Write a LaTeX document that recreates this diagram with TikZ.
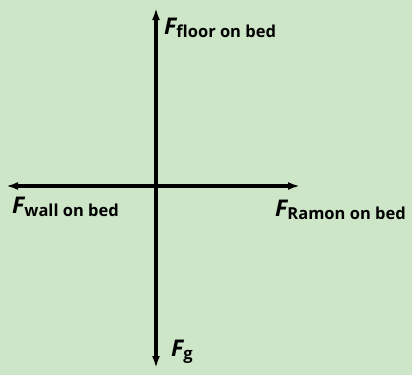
\documentclass[tikz,border=0pt]{standalone}
\usepackage{fontspec}
\setmainfont{Open Sans}
\usetikzlibrary{arrows.meta}
\definecolor{bg}{RGB}{206,230,200}
\newcommand{\forcelab}[1]{{\fontsize{23}{23}\selectfont\itshape F}\raisebox{-3pt}{\fontsize{16.5}{16.5}\selectfont #1}}
\begin{document}
\begin{tikzpicture}[x=1pt,y=-1pt,
  force/.style={line width=3.6pt,-{Latex[length=12pt,width=8pt]}},
  lab/.style={anchor=base west,inner sep=0pt,font=\bfseries}]
\useasboundingbox (0,0) rectangle (412,375);
\fill[bg] (0,0) rectangle (412,375);
\coordinate (o) at (156,186);
\coordinate (up) at (156,8);
\coordinate (down) at (156,368);
\coordinate (left) at (6,186);
\coordinate (right) at (300,186);
\draw[force] (o) -- (up);
\draw[force] (o) -- (down);
\draw[force,line width=4.4pt] (o) -- (left);
\draw[force,line width=4.4pt] (o) -- (right);
\node[lab] (ff) at (164,34) {\forcelab{floor on bed}};
\node[lab] (fw) at (12,213) {\forcelab{wall on bed}};
\node[lab] (fr) at (275,216) {\forcelab{Ramon on bed}};
\node[lab] (fg) at (171,356) {\forcelab{g}};
\end{tikzpicture}
\end{document}
